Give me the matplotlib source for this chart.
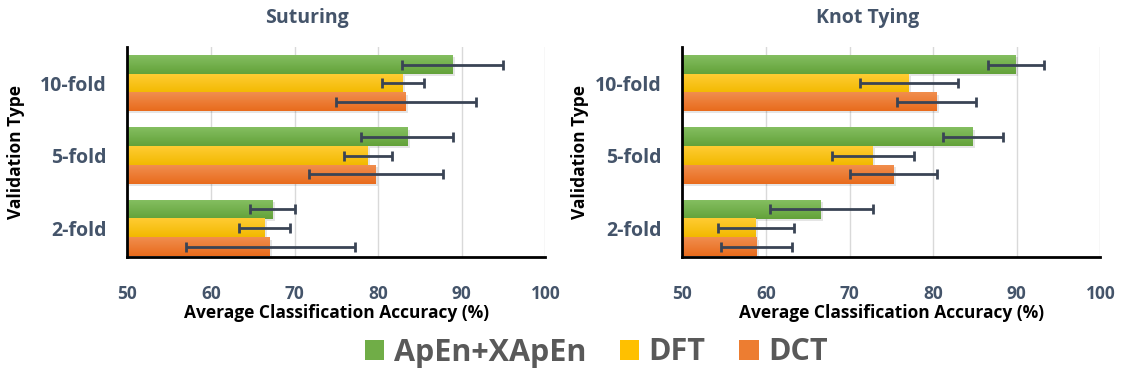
import numpy as np
import matplotlib
matplotlib.use('Agg')
import matplotlib.pyplot as plt
from matplotlib.colors import LinearSegmentedColormap
from matplotlib.patches import Patch

plt.rcParams['font.family'] = ['Open Sans', 'DejaVu Sans']
plt.rcParams['font.weight'] = 'bold'

# data
folds = ['2-fold', '5-fold', '10-fold']
methods = ['ApEn+XApEn', 'DFT', 'DCT']

sut_apen = [67.4, 83.5, 88.9]
sut_apen_err = [2.7, 5.5, 6.0]
sut_dft = [66.4, 78.8, 83.0]
sut_dft_err = [3.1, 2.9, 2.5]
sut_dct = [67.1, 79.7, 83.3]
sut_dct_err = [10.1, 8.0, 8.4]

knot_apen = [66.6, 84.8, 89.9]
knot_apen_err = [6.15, 3.6, 3.3]
knot_dft = [58.8, 72.8, 77.1]
knot_dft_err = [4.5, 4.95, 5.85]
knot_dct = [58.9, 75.3, 80.4]
knot_dct_err = [4.25, 5.2, 4.7]

xticks = [50, 60, 70, 80, 90, 100]

# colours: (top, bottom) of the light gradient on each bar
colors = {
    'ApEn+XApEn': ('#84BE60', '#63A23A'),
    'DFT': ('#FFCC33', '#F2B900'),
    'DCT': ('#F18E4E', '#E86B1C'),
}
flat = {'ApEn+XApEn': '#70AD47', 'DFT': '#FFC000', 'DCT': '#ED7D31'}
slate = '#44546A'
err_col = '#3A4455'

fig = plt.figure(figsize=(11.25, 3.75), dpi=100)
ax_l = fig.add_axes([0.1132, 0.3147, 0.3716, 0.56])
ax_r = fig.add_axes([0.6065, 0.3147, 0.3716, 0.56])

h = 0.258
y = np.arange(len(folds))


def gradient_bars(ax, bars, name):
    top, bot = colors[name]
    cmap = LinearSegmentedColormap.from_list(name, [bot, top])
    grad = np.linspace(0, 1, 64).reshape(-1, 1)
    for b in bars:
        x0, y0 = b.get_x(), b.get_y()
        w, hh = b.get_width(), b.get_height()
        # soft drop shadow
        ax.fill_between([x0, x0 + w + 0.25], y0 - 0.03, y0 + hh - 0.03,
                        color='#000000', alpha=0.10, lw=0, zorder=1.5)
        ax.imshow(grad, extent=[x0, x0 + w, y0, y0 + hh], origin='lower',
                  aspect='auto', cmap=cmap, zorder=2, interpolation='bilinear')


def draw_panel(ax, apen, apen_e, dft, dft_e, dct, dct_e, ylab_x):
    series = [(apen, apen_e, 'ApEn+XApEn', h), (dft, dft_e, 'DFT', 0.0),
              (dct, dct_e, 'DCT', -h)]
    for vals, errs, name, off in series:
        bars = ax.barh(y + off, np.array(vals) - 50, height=h, left=50,
                       color='none', zorder=2)
        gradient_bars(ax, bars, name)
        ax.errorbar(vals, y + off, xerr=errs, fmt='none', ecolor=err_col,
                    elinewidth=2, capsize=3.5, capthick=2, zorder=4)
    ax.set_xlim(50, 100)
    ax.set_ylim(-0.4, 2.5)
    ax.set_xticks(xticks)
    ax.set_xticklabels([str(t) for t in xticks], fontsize=12.5,
                       color=slate, fontweight='bold')
    ax.set_yticks(y)
    ax.set_yticklabels(folds, fontsize=14, color=slate, fontweight='bold')
    ax.tick_params(axis='both', length=0)
    ax.tick_params(axis='y', pad=15)
    ax.tick_params(axis='x', pad=20)
    ax.grid(axis='x', color='#D9D9D9', lw=1, zorder=0)
    ax.set_axisbelow(True)
    for s in ['top', 'right']:
        ax.spines[s].set_visible(False)
    for s in ['left', 'bottom']:
        ax.spines[s].set_linewidth(2)
        ax.spines[s].set_color('black')
        ax.spines[s].set_zorder(5)
    ax.set_xlabel('Average Classification Accuracy (%)', fontsize=12.5,
                  fontweight='bold', color='black', labelpad=1)
    ax.set_ylabel('Validation Type', fontsize=12.5, fontweight='bold',
                  color='black')
    ax.yaxis.set_label_coords(ylab_x, 0.5)


draw_panel(ax_l, sut_apen, sut_apen_err, sut_dft, sut_dft_err,
           sut_dct, sut_dct_err, -0.245)
draw_panel(ax_r, knot_apen, knot_apen_err, knot_dft, knot_dft_err,
           knot_dct, knot_dct_err, -0.223)

fig.text(307 / 1125, 1 - 18 / 375, 'Suturing', ha='center', va='center',
         fontsize=14, fontweight='bold', color=slate)
fig.text(868 / 1125, 1 - 18 / 375, 'Knot Tying', ha='center', va='center',
         fontsize=14, fontweight='bold', color=slate)

handles = [Patch(facecolor=flat[m], edgecolor='none') for m in methods]
fig.legend(handles, methods, loc='center', bbox_to_anchor=(0.53, 0.06),
           ncol=3, frameon=False, labelcolor='#595959',
           handlelength=0.65, handleheight=0.65, handletextpad=0.3,
           columnspacing=1.1, prop={'weight': 'bold', 'size': 22})

fig.savefig('out.png', dpi=100, facecolor='white')
